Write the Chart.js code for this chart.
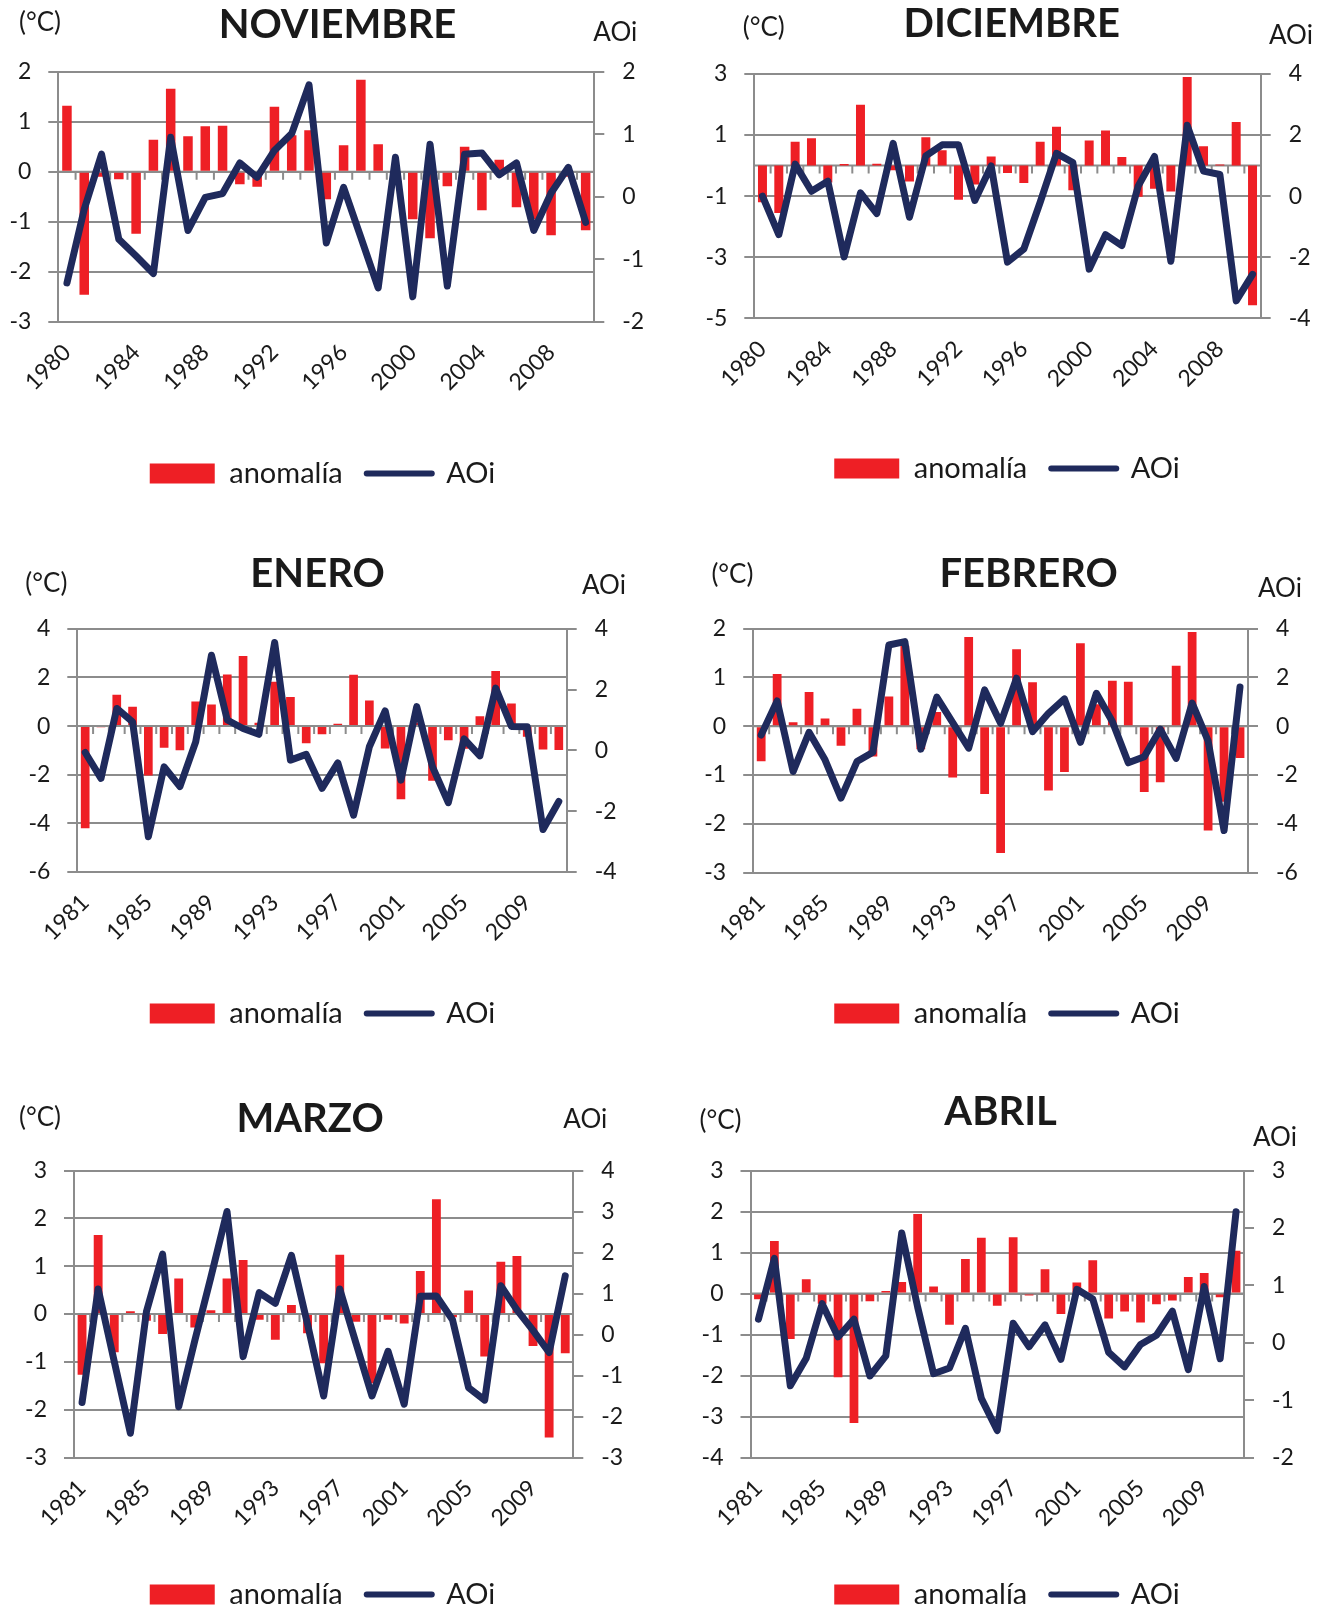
<!DOCTYPE html>
<html lang="es">
<head>
<meta charset="utf-8">
<title>Anomalía de temperatura y AOi</title>
<script src="https://cdn.jsdelivr.net/npm/chart.js@4.4.1/dist/chart.umd.min.js"></script>
<style>
  html, body { margin: 0; padding: 0; background: #ffffff; overflow: hidden; }
  body { width: 1333px; height: 1610px; position: relative; }
  .panel { position: absolute; }
</style>
</head>
<body>
<div class="panel" id="p-nov"><canvas id="c-nov"></canvas></div>
<div class="panel" id="p-dic"><canvas id="c-dic"></canvas></div>
<div class="panel" id="p-ene"><canvas id="c-ene"></canvas></div>
<div class="panel" id="p-feb"><canvas id="c-feb"></canvas></div>
<div class="panel" id="p-mar"><canvas id="c-mar"></canvas></div>
<div class="panel" id="p-abr"><canvas id="c-abr"></canvas></div>
<script>
// ---- Categories (years) ----
const years1980 = ['1980','1981','1982','1983','1984','1985','1986','1987','1988','1989',
  '1990','1991','1992','1993','1994','1995','1996','1997','1998','1999',
  '2000','2001','2002','2003','2004','2005','2006','2007','2008','2009','2010'];
const years1981 = ['1981','1982','1983','1984','1985','1986','1987','1988','1989','1990',
  '1991','1992','1993','1994','1995','1996','1997','1998','1999','2000',
  '2001','2002','2003','2004','2005','2006','2007','2008','2009','2010','2011'];

// ---- Noviembre (1980-2010) ----
const novAnomalia = [1.32,-2.46,-0.1,-0.15,-1.24,0.64,1.66,0.71,0.91,0.92,
  -0.25,-0.3,1.3,0.73,0.83,-0.55,0.53,1.84,0.55,-0.05,
  -0.95,-1.33,-0.29,0.5,-0.77,0.24,-0.71,-0.95,-1.27,-0.1,-1.17];
const novAOi = [-1.38,-0.2,0.68,-0.68,-0.95,-1.23,0.95,-0.54,-0.01,0.05,
  0.54,0.31,0.74,1.01,1.79,-0.74,0.15,-0.65,-1.46,0.63,
  -1.6,0.84,-1.43,0.68,0.7,0.35,0.54,-0.54,0.06,0.47,-0.41];

// ---- Diciembre (1980-2010) ----
const dicAnomalia = [-1.2,-1.55,0.78,0.9,-0.55,0.05,1.99,0.06,-0.15,-0.52,
  0.93,0.5,-1.12,-0.62,0.3,-0.24,-0.57,0.78,1.27,-0.81,
  0.82,1.15,0.28,-1.02,-0.76,-0.85,2.9,0.63,0.04,1.43,-4.57];
const dicAOi = [0.0,-1.26,1.05,0.16,0.49,-1.99,0.11,-0.57,1.73,-0.69,
  1.32,1.68,1.68,-0.14,0.99,-2.16,-1.73,-0.2,1.4,1.1,
  -2.39,-1.26,-1.62,0.33,1.3,-2.13,2.32,0.82,0.71,-3.43,-2.56];

// ---- Enero (1981-2011) ----
const eneAnomalia = [-4.2,-0.05,1.29,0.79,-2.03,-0.89,-0.99,1.01,0.89,2.12,
  2.88,0.14,1.82,1.2,-0.71,-0.34,0.1,2.11,1.05,-0.92,
  -3.01,0.15,-2.25,-0.58,-0.93,0.4,2.26,0.93,-0.44,-0.96,-0.98];
const eneAOi = [-0.07,-0.92,1.38,0.94,-2.84,-0.54,-1.19,0.28,3.13,1.0,
  0.72,0.53,3.55,-0.32,-0.13,-1.25,-0.41,-2.13,0.12,1.3,
  -0.98,1.44,-0.54,-1.72,0.38,-0.18,2.05,0.79,0.78,-2.6,-1.68];

// ---- Febrero (1981-2011) ----
const febAnomalia = [-0.72,1.07,0.08,0.7,0.16,-0.4,0.36,-0.62,0.61,1.65,
  -0.47,0.29,-1.05,1.83,-1.39,-2.6,1.58,0.9,-1.32,-0.94,
  1.7,0.45,0.93,0.91,-1.35,-1.15,1.24,1.93,-2.14,-1.55,-0.65];
const febAOi = [-0.36,1.04,-1.86,-0.25,-1.38,-2.95,-1.45,-1.07,3.33,3.47,
  -0.94,1.19,0.15,-0.9,1.49,0.12,1.97,-0.22,0.53,1.12,
  -0.66,1.35,0.19,-1.5,-1.25,-0.12,-1.32,0.95,-0.6,-4.28,1.61];

// ---- Marzo (1981-2011) ----
const marAnomalia = [-1.27,1.65,-0.8,0.06,-0.14,-0.42,0.74,-0.28,0.08,0.74,
  1.13,-0.12,-0.54,0.19,-0.4,-1.03,1.24,-0.16,-1.45,-0.12,
  -0.2,0.9,2.4,-0.07,0.49,-0.89,1.09,1.21,-0.67,-2.58,-0.82];
const marAOi = [-1.66,1.11,-0.66,-2.41,0.56,1.96,-1.76,-0.15,1.4,3.0,
  -0.54,1.02,0.76,1.93,0.25,-1.5,1.11,-0.2,-1.5,-0.41,
  -1.7,0.93,0.94,0.36,-1.3,-1.6,1.19,0.6,0.1,-0.44,1.43];

// ---- Abril (1981-2011) ----
const abrAnomalia = [-0.14,1.28,-1.11,0.35,-0.25,-2.04,-3.16,-0.19,0.06,0.28,
  1.94,0.17,-0.76,0.84,1.36,-0.3,1.37,-0.05,0.59,-0.5,
  0.27,0.81,-0.61,-0.44,-0.71,-0.26,-0.17,0.4,0.5,-0.09,1.04];
const abrAOi = [0.41,1.47,-0.75,-0.27,0.68,0.1,0.41,-0.58,-0.23,1.91,
  0.62,-0.54,-0.44,0.25,-0.97,-1.53,0.34,-0.07,0.31,-0.29,
  0.93,0.76,-0.17,-0.42,-0.03,0.13,0.55,-0.47,0.98,-0.28,2.28];

// ---- Series names ----
const seriesNames = ['anomalía', 'AOi'];

// ---- Styling ----
const GRID = '#8c8c8c';
const RED = '#ee1f25';
const NAVY = '#1f2a5c';
const INK = '#1a1a1a';
const FONT = 'Lato';
const LEGEND_PAD = 24;
const LEGEND_FONT = 29;
const TICK_FONT = 23;

Chart.defaults.font.family = FONT;
Chart.defaults.color = INK;

// Titles and unit captions drawn on each panel
const panelText = {
  id: 'panelText',
  afterDraw(chart, args, o) {
    const ctx = chart.ctx;
    ctx.save();
    ctx.fillStyle = INK;
    ctx.textBaseline = 'middle';
    ctx.textAlign = 'center';
    ctx.font = 'bold 40px ' + FONT;
    ctx.fillText(o.title, o.titleX, o.titleY);
    ctx.textAlign = 'left';
    ctx.font = '26px ' + FONT;
    ctx.fillText('(°C)', o.unitX, o.unitY);
    ctx.fillText('AOi', o.aoiX, o.aoiY);
    ctx.restore();
  }
};

// Zero line with small tick marks at the category boundaries
const zeroAxis = {
  id: 'zeroAxis',
  beforeDatasetsDraw(chart) {
    const xs = chart.scales.x, ys = chart.scales.y;
    const y0 = ys.getPixelForValue(0);
    const n = chart.data.labels.length;
    const ctx = chart.ctx;
    ctx.save();
    ctx.strokeStyle = GRID;
    ctx.lineWidth = 2;
    ctx.beginPath();
    ctx.moveTo(chart.chartArea.left, y0);
    ctx.lineTo(chart.chartArea.right, y0);
    for (let i = 1; i < n; i++) {
      const px = (xs.getPixelForValue(i - 1) + xs.getPixelForValue(i)) / 2;
      ctx.moveTo(px, y0);
      ctx.lineTo(px, y0 + 8);
    }
    ctx.stroke();
    ctx.restore();
  }
};

// Legend entries with rounded line ends
function legendLabels(chart) {
  return Chart.defaults.plugins.legend.labels.generateLabels(chart)
    .map(item => Object.assign(item, { lineCap: 'round' }));
}

function buildPanel(p) {
  const box = p.box, area = p.area;
  const holder = document.getElementById(p.holder);
  holder.style.left = box.x + 'px';
  holder.style.top = box.y + 'px';
  holder.style.width = box.w + 'px';
  holder.style.height = box.h + 'px';

  const padTop = area.top - box.y;
  const leftW = area.left - box.x;
  const rightW = box.x + box.w - area.right;
  const bottomLocal = area.bottom - box.y;

  const tickFont = { family: FONT, size: TICK_FONT };

  return new Chart(document.getElementById(p.canvas), {
    data: {
      labels: p.labels,
      datasets: [
        {
          type: 'bar',
          label: seriesNames[0],
          data: p.bars,
          yAxisID: 'y',
          backgroundColor: RED,
          borderWidth: 0,
          barPercentage: 0.55,
          categoryPercentage: 1.0,
          pointStyle: 'rect',
          order: 2
        },
        {
          type: 'line',
          label: seriesNames[1],
          data: p.line,
          yAxisID: 'y1',
          borderColor: NAVY,
          backgroundColor: NAVY,
          borderWidth: 7,
          borderJoinStyle: 'round',
          borderCapStyle: 'round',
          tension: 0,
          pointRadius: 0,
          pointHoverRadius: 0,
          pointStyle: 'line',
          pointBorderWidth: 6,
          pointBorderColor: NAVY,
          pointBackgroundColor: NAVY,
          fill: false,
          clip: false,
          order: 1
        }
      ]
    },
    options: {
      responsive: true,
      maintainAspectRatio: false,
      devicePixelRatio: 1,
      animation: false,
      events: [],
      layout: { autoPadding: false, padding: { top: padTop, left: 0, right: 0, bottom: 0 } },
      scales: {
        x: {
          type: 'category',
          offset: true,
          grid: { display: false, drawTicks: false },
          border: { display: false },
          ticks: {
            autoSkip: false,
            minRotation: 45,
            maxRotation: 45,
            padding: 17,
            color: INK,
            font: tickFont,
            callback: function (value, index) {
              return index % 4 === 0 ? this.getLabelForValue(value) : '';
            }
          },
          afterFit: function (s) {
            const lh = (s.chart.legend && s.chart.legend.height) || (LEGEND_FONT + LEGEND_PAD + 10);
            s.height = box.h - lh - bottomLocal;
          }
        },
        y: {
          position: 'left',
          min: p.left.min,
          max: p.left.max,
          grid: { color: GRID, lineWidth: 2, tickLength: 10, tickColor: GRID },
          border: { color: GRID, width: 2 },
          ticks: {
            stepSize: p.left.step,
            padding: 17,
            color: INK,
            font: tickFont,
            callback: v => String(v)
          },
          afterFit: function (s) { s.width = leftW; }
        },
        y1: {
          position: 'right',
          min: p.right.min,
          max: p.right.max,
          grid: { drawOnChartArea: false, color: GRID, lineWidth: 2, tickLength: 10, tickColor: GRID },
          border: { color: GRID, width: 2 },
          ticks: {
            stepSize: p.right.step,
            padding: 18,
            color: INK,
            font: tickFont,
            callback: v => String(v)
          },
          afterFit: function (s) { s.width = rightW; }
        }
      },
      plugins: {
        title: { display: false },
        tooltip: { enabled: false },
        legend: {
          display: true,
          position: 'bottom',
          labels: {
            usePointStyle: true,
            pointStyleWidth: 65,
            boxHeight: 20,
            padding: LEGEND_PAD,
            color: INK,
            font: { family: FONT, size: LEGEND_FONT },
            generateLabels: legendLabels,
            sort: (a, b) => a.datasetIndex - b.datasetIndex
          }
        },
        panelText: {
          title: p.title,
          titleX: p.titleAt[0] - box.x, titleY: p.titleAt[1] - box.y,
          unitX: p.unitAt[0] - box.x, unitY: p.unitAt[1] - box.y,
          aoiX: p.aoiAt[0] - box.x, aoiY: p.aoiAt[1] - box.y
        }
      }
    },
    plugins: [zeroAxis, panelText]
  });
}

buildPanel({
  holder: 'p-nov', canvas: 'c-nov', title: 'NOVIEMBRE',
  labels: years1980, bars: novAnomalia, line: novAOi,
  left: { min: -3, max: 2, step: 1 }, right: { min: -2, max: 2, step: 1 },
  box: { x: 0, y: 0, w: 645, h: 498 },
  area: { left: 58.3, right: 594.3, top: 71.7, bottom: 321.7 },
  titleAt: [337.5, 25], unitAt: [19, 22.5], aoiAt: [593.3, 33]
});
buildPanel({
  holder: 'p-dic', canvas: 'c-dic', title: 'DICIEMBRE',
  labels: years1980, bars: dicAnomalia, line: dicAOi,
  left: { min: -5, max: 3, step: 2 }, right: { min: -4, max: 4, step: 2 },
  box: { x: 681, y: 0, w: 652, h: 493 },
  area: { left: 754.3, right: 1260.7, top: 74, bottom: 318.3 },
  titleAt: [1011.8, 24], unitAt: [742.7, 27.5], aoiAt: [1269, 36]
});
buildPanel({
  holder: 'p-ene', canvas: 'c-ene', title: 'ENERO',
  labels: years1981, bars: eneAnomalia, line: eneAOi,
  left: { min: -6, max: 4, step: 2 }, right: { min: -4, max: 4, step: 2 },
  box: { x: 0, y: 500, w: 645, h: 538 },
  area: { left: 77.3, right: 566.7, top: 628.8, bottom: 872 },
  titleAt: [317.6, 574], unitAt: [25.3, 583.3], aoiAt: [582, 586]
});
buildPanel({
  holder: 'p-feb', canvas: 'c-feb', title: 'FEBRERO',
  labels: years1981, bars: febAnomalia, line: febAOi,
  left: { min: -3, max: 2, step: 1 }, right: { min: -6, max: 4, step: 2 },
  box: { x: 681, y: 500, w: 652, h: 538 },
  area: { left: 753.2, right: 1248, top: 628.7, bottom: 872.5 },
  titleAt: [1028.6, 574], unitAt: [711.4, 575], aoiAt: [1258, 588.7]
});
buildPanel({
  holder: 'p-mar', canvas: 'c-mar', title: 'MARZO',
  labels: years1981, bars: marAnomalia, line: marAOi,
  left: { min: -3, max: 3, step: 1 }, right: { min: -3, max: 4, step: 1 },
  box: { x: 0, y: 1045, w: 645, h: 574 },
  area: { left: 74, right: 573.3, top: 1170.5, bottom: 1457.5 },
  titleAt: [310.1, 1119.2], unitAt: [19, 1117.5], aoiAt: [563.3, 1120]
});
buildPanel({
  holder: 'p-abr', canvas: 'c-abr', title: 'ABRIL',
  labels: years1981, bars: abrAnomalia, line: abrAOi,
  left: { min: -4, max: 3, step: 1 }, right: { min: -2, max: 3, step: 1 },
  box: { x: 681, y: 1045, w: 652, h: 574 },
  area: { left: 750.5, right: 1244, top: 1170.5, bottom: 1457.5 },
  titleAt: [1000.6, 1112.5], unitAt: [699.5, 1120.8], aoiAt: [1253, 1138]
});
</script>
</body>
</html>
